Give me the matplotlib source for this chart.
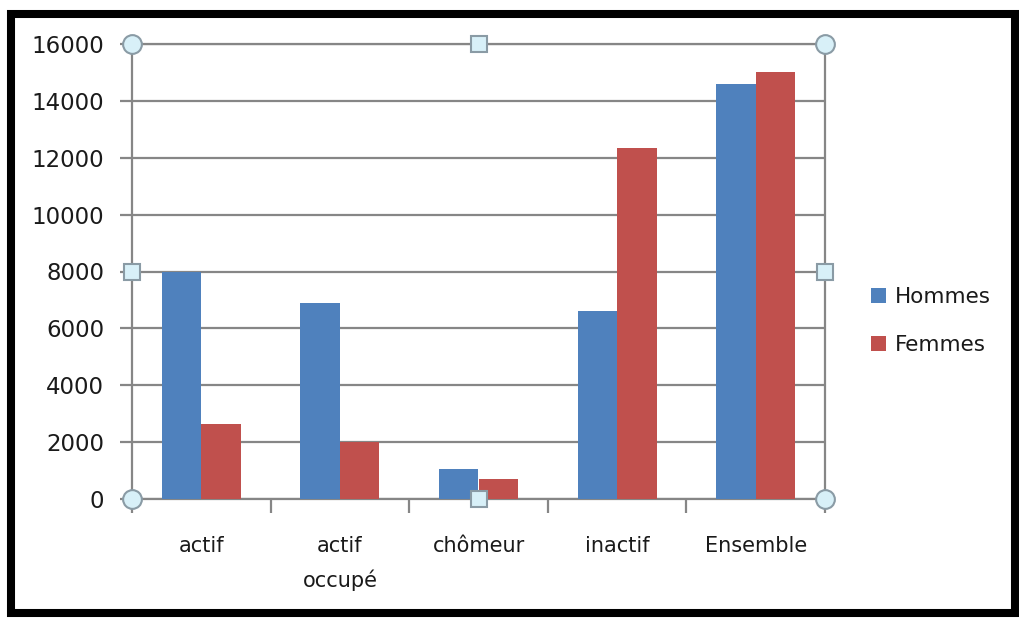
import matplotlib
matplotlib.use("Agg")
import matplotlib.pyplot as plt
from matplotlib.patches import Rectangle
import numpy as np

categories = ["actif", "actif\noccupé", "chômeur", "inactif", "Ensemble"]
hommes = [8000, 6900, 1050, 6600, 14600]
femmes = [2650, 2000, 700, 12350, 15000]
series_names = ["Hommes", "Femmes"]
yticks = [0, 2000, 4000, 6000, 8000, 10000, 12000, 14000, 16000]

W, H = 1019, 618
fig = plt.figure(figsize=(W / 100, H / 100), dpi=100)
fig.patch.set_facecolor("white")

# outer black frame
fig.patches.append(Rectangle((11 / W, 1 - 613 / H), (1015 - 11) / W, (613 - 14) / H,
                             transform=fig.transFigure, fill=False,
                             edgecolor="black", linewidth=5.8, zorder=0))

ax = fig.add_axes([132 / W, 1 - 499 / H, 693 / W, 455 / H])
grid_c = "#868686"
blue = "#4F81BD"
red = "#C0504D"

x = np.arange(len(categories))
bw = 1 / 3.5
ax.bar(x - bw / 2, hommes, width=bw, color=blue, label=series_names[0], zorder=3)
ax.bar(x + bw / 2, femmes, width=bw, color=red, label=series_names[1], zorder=3)

ax.set_xlim(-0.5, len(categories) - 0.5)
ax.set_ylim(0, 16000)
ax.set_yticks(yticks)
ax.set_yticklabels([str(v) for v in yticks])
ax.yaxis.grid(True, color=grid_c, linewidth=1.6, zorder=1)
ax.set_axisbelow(True)

ax.set_xticks(x)
ax.set_xticklabels(categories, linespacing=1.75, va="top")
ax.set_xticks(np.arange(-0.5, len(categories), 1.0), minor=True)
ax.tick_params(axis="x", which="major", length=0, pad=27, labelsize=15, labelcolor="#1a1a1a")
ax.tick_params(axis="x", which="minor", length=10, width=1.6, color=grid_c, direction="out")
ax.tick_params(axis="y", length=9, width=1.6, color=grid_c, pad=11, labelsize=16.5, labelcolor="#1a1a1a")

for s in ax.spines.values():
    s.set_color(grid_c)
    s.set_linewidth(1.6)

# selection handles (Excel-style)
hfill = "#D8F0F8"
hedge = "#8A9BA5"
for (px, py) in [(0, 0), (0, 1), (1, 0), (1, 1)]:
    ax.plot([px], [py], marker="o", markersize=13.5, markerfacecolor=hfill,
            markeredgecolor=hedge, markeredgewidth=1.5, transform=ax.transAxes,
            clip_on=False, zorder=10)
for (px, py) in [(0.5, 0), (0.5, 1), (0, 0.5), (1, 0.5)]:
    ax.plot([px], [py], marker="s", markersize=11, markerfacecolor=hfill,
            markeredgecolor=hedge, markeredgewidth=1.5, transform=ax.transAxes,
            clip_on=False, zorder=10)

leg = fig.legend(loc="upper left", bbox_to_anchor=(852 / W, 1 - 268 / H),
                 frameon=False, fontsize=15.5, handlelength=0.7, handleheight=0.7,
                 handletextpad=0.4, labelspacing=1.3)
for t in leg.get_texts():
    t.set_color("#1a1a1a")

fig.savefig("out.png", dpi=100, facecolor="white")
